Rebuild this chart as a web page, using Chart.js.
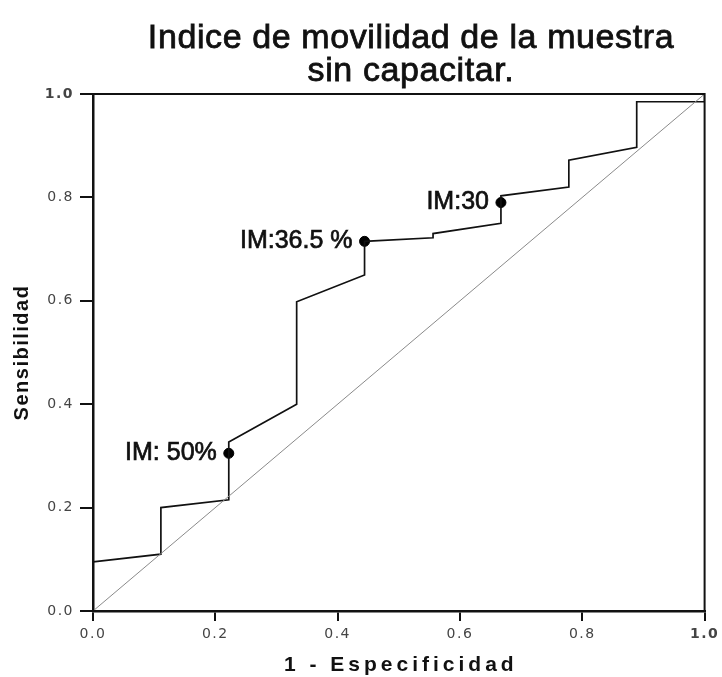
<!DOCTYPE html>
<html>
<head>
<meta charset="utf-8">
<script src="https://cdn.jsdelivr.net/npm/chart.js@4"></script>
<style>
    html, body { margin: 0; padding: 0; background: #fff; }
    #wrap { width: 722px; height: 677px; }
</style>
</head>
<body>
<div id="wrap"><canvas id="rocChart" width="722" height="677"></canvas></div>
<script>
// ROC curve (1 - especificidad vs sensibilidad)
const fpr = [0, 0.111, 0.111, 0.222, 0.222, 0.333, 0.333, 0.444, 0.444, 0.556, 0.556, 0.667, 0.667, 0.778, 0.778, 0.889, 0.889, 1.0, 1.0];
const sens = [0.095, 0.11, 0.20, 0.215, 0.327, 0.40, 0.598, 0.65, 0.715, 0.722, 0.73, 0.75, 0.803, 0.82, 0.872, 0.897, 0.985, 0.985, 1.0];

const diagX = [0, 1];
const diagY = [0, 1];

const markerX = [0.222, 0.444, 0.667];
const markerY = [0.305, 0.715, 0.79];
const markerLabels = ['IM: 50%', 'IM:36.5 %', 'IM:30'];

const tickValues = [0, 0.2, 0.4, 0.6, 0.8, 1.0];
const titleLines = ['Indice de movilidad de la muestra', 'sin capacitar.'];
const xTitle = '1 - Especificidad';
const yTitle = 'Sensibilidad';

const toPoints = (xs, ys) => xs.map((x, i) => ({ x, y: ys[i] }));

const tickFont = ctx => ({
    family: 'DejaVu Sans',
    size: 14,
    weight: ctx.tick && ctx.tick.value === 1 ? 'bold' : 'normal'
});

// heavier text like the scanned original
function boldText(ctx, text, x, y) {
    ctx.fillText(text, x, y);
    ctx.strokeText(text, x, y);
}

// frame, titles and point labels
const extras = {
    id: 'extras',
    beforeDraw(chart) {
        chart.ctx.letterSpacing = '1.5px';
    },
    afterDatasetsDraw(chart) {
        const { ctx, chartArea: a } = chart;
        ctx.save();
        ctx.letterSpacing = '0px';
        ctx.strokeStyle = '#111';
        ctx.lineWidth = 2;
        ctx.strokeRect(a.left, a.top, a.right - a.left, a.bottom - a.top);

        ctx.fillStyle = '#111';
        ctx.lineWidth = 0.8;
        ctx.textBaseline = 'alphabetic';
        ctx.textAlign = 'center';
        ctx.font = '34px "Liberation Sans", Arial, sans-serif';
        ctx.letterSpacing = '0.6px';
        boldText(ctx, titleLines[0], 411, 48);
        boldText(ctx, titleLines[1], 411, 81);
        ctx.letterSpacing = '0px';

        const meta = chart.getDatasetMeta(2);
        ctx.lineWidth = 0.7;
        ctx.font = '25px "Liberation Sans", Arial, sans-serif';
        ctx.textAlign = 'right';
        ctx.textBaseline = 'middle';
        meta.data.forEach((pt, i) => {
            boldText(ctx, markerLabels[i], pt.x - 12, pt.y);
        });

        // axis titles
        ctx.textAlign = 'center';
        ctx.font = 'bold 21px "Liberation Sans", Arial, sans-serif';
        ctx.letterSpacing = '4px';
        ctx.fillText(xTitle, (a.left + a.right) / 2 + 2, 665);
        ctx.letterSpacing = '1.5px';
        ctx.font = 'bold 20px "Liberation Sans", Arial, sans-serif';
        ctx.save();
        ctx.translate(22, (a.top + a.bottom) / 2);
        ctx.rotate(-Math.PI / 2);
        ctx.fillText(yTitle, 0, 0);
        ctx.restore();
        ctx.restore();
    },
    afterDraw(chart) {
        chart.ctx.letterSpacing = '0px';
    }
};

new Chart(document.getElementById('rocChart'), {
    type: 'scatter',
    data: {
        datasets: [{
            label: 'Referencia',
            data: toPoints(diagX, diagY),
            showLine: true,
            borderColor: '#8a8a8a',
            borderWidth: 1,
            pointRadius: 0,
            tension: 0
        }, {
            label: 'Curva ROC',
            data: toPoints(fpr, sens),
            showLine: true,
            borderColor: '#111',
            borderWidth: 1.7,
            pointRadius: 0,
            tension: 0
        }, {
            label: 'Puntos de corte',
            data: toPoints(markerX, markerY),
            showLine: false,
            pointRadius: 5,
            pointBackgroundColor: '#000',
            pointBorderColor: '#000'
        }]
    },
    options: {
        responsive: false,
        animation: false,
        layout: { padding: { left: 0, right: 15, top: 94, bottom: 0 } },
        plugins: {
            legend: { display: false },
            tooltip: { enabled: false },
            title: { display: false }
        },
        scales: {
            x: {
                type: 'linear',
                min: 0,
                max: 1,
                afterFit: scale => { scale.height = 66; },
                afterBuildTicks: scale => { scale.ticks = tickValues.map(value => ({ value })); },
                ticks: {
                    color: '#444',
                    font: tickFont,
                    padding: 5,
                    callback: v => v.toFixed(1)
                },
                grid: {
                    drawOnChartArea: false,
                    drawTicks: true,
                    tickLength: 10,
                    color: '#111',
                    lineWidth: 2
                },
                border: { display: true, color: '#111', width: 2.5 },
                title: { display: false }
            },
            y: {
                type: 'linear',
                min: 0,
                max: 1,
                afterFit: scale => { scale.width = 93; },
                afterBuildTicks: scale => { scale.ticks = tickValues.map(value => ({ value })); },
                ticks: {
                    color: '#444',
                    font: tickFont,
                    padding: 6,
                    callback: v => v.toFixed(1)
                },
                grid: {
                    drawOnChartArea: false,
                    drawTicks: true,
                    tickLength: 13,
                    color: '#111',
                    lineWidth: 2
                },
                border: { display: true, color: '#111', width: 2.5 },
                title: { display: false }
            }
        }
    },
    plugins: [extras]
});
</script>
</body>
</html>
